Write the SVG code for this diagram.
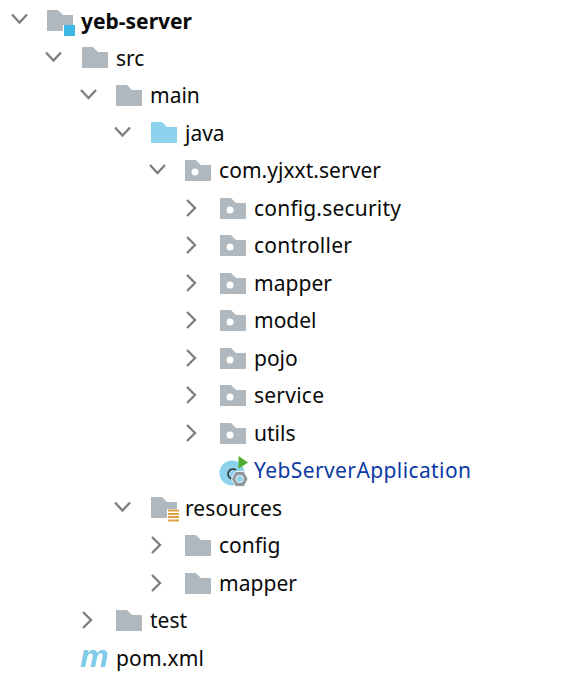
<svg xmlns="http://www.w3.org/2000/svg" width="585" height="673" viewBox="0 0 585 673">
<defs>
<style>
text{font-family:"Noto Sans","Open Sans","Liberation Sans",sans-serif;font-size:21px;fill:#0a0a0a}
.ch{fill:none;stroke:#808080;stroke-width:2.400}
.f{fill:#afb8be}
.j{fill:#8dd3ed}
.h{fill:#fff}
</style>
<path id="folder" d="M0 0H11L16 5H26V21H0Z"/>
<path id="dn" d="M0 0L7.500 8L15 0"/>
<path id="rt" d="M0 0L8 8L0 16"/>
</defs>
<rect width="585" height="673" fill="#fff"/>
<g id="connectors"></g>
<g id="n-root"><use href="#dn" class="ch" x="12" y="14.500"/><path class="f" d="M47 10H58L63 15H73V25H63V31H47Z"/><rect x="64" y="25" width="11" height="11" fill="#3fb7e4"/><text x="81" y="29" textLength="111" style="font-weight:700">yeb-server</text></g>
<g id="n-src"><use href="#dn" class="ch" x="46" y="52.500"/><use href="#folder" class="f" x="82" y="47"/><text x="116" y="66">src</text></g>
<g id="n-main"><use href="#dn" class="ch" x="81" y="90"/><use href="#folder" class="f" x="116" y="85"/><text x="150" y="103">main</text></g>
<g id="n-java"><use href="#dn" class="ch" x="115" y="127.500"/><use href="#folder" class="j" x="151" y="122"/><text x="185" y="141">java</text></g>
<g id="n-pkg"><use href="#dn" class="ch" x="150" y="165"/><use href="#folder" class="f" x="185" y="160"/><circle class="h" cx="195" cy="172" r="3.500"/><text x="219" y="178" textLength="162">com.yjxxt.server</text></g>
<g id="n-config-security"><use href="#rt" class="ch" x="187" y="200"/><use href="#folder" class="f" x="220" y="198"/><circle class="h" cx="230" cy="210" r="3.500"/><text x="254" y="216" textLength="147">config.security</text></g>
<g id="n-controller"><use href="#rt" class="ch" x="187" y="237"/><use href="#folder" class="f" x="220" y="235"/><circle class="h" cx="230" cy="247" r="3.500"/><text x="254" y="253" textLength="98">controller</text></g>
<g id="n-mapper"><use href="#rt" class="ch" x="187" y="275"/><use href="#folder" class="f" x="220" y="273"/><circle class="h" cx="230" cy="285" r="3.500"/><text x="254" y="291" textLength="78">mapper</text></g>
<g id="n-model"><use href="#rt" class="ch" x="187" y="312"/><use href="#folder" class="f" x="220" y="310"/><circle class="h" cx="230" cy="322" r="3.500"/><text x="254" y="328">model</text></g>
<g id="n-pojo"><use href="#rt" class="ch" x="187" y="350"/><use href="#folder" class="f" x="220" y="348"/><circle class="h" cx="230" cy="360" r="3.500"/><text x="254" y="366">pojo</text></g>
<g id="n-service"><use href="#rt" class="ch" x="187" y="387"/><use href="#folder" class="f" x="220" y="385"/><circle class="h" cx="230" cy="397" r="3.500"/><text x="254" y="403" textLength="70">service</text></g>
<g id="n-utils"><use href="#rt" class="ch" x="187" y="425"/><use href="#folder" class="f" x="220" y="423"/><circle class="h" cx="230" cy="435" r="3.500"/><text x="254" y="441">utils</text></g>
<g id="n-app"><circle class="j" cx="232" cy="473" r="12.500"/><path d="M236 470A5 5 0 1 0 233 479" fill="none" stroke="#333" stroke-width="1.600"/><path d="M238.500 456L248 462.500L238.500 469Z" fill="#4fae33"/><path d="M231.500 479L235.500 471.500H244L248 479L244 486.500H235.500Z" fill="#8f979d" stroke="#fff" stroke-width=".8"/><circle cx="239.700" cy="479" r="3.500" fill="#8dd3ed" stroke="#e8ecef" stroke-width="1.200"/><text x="254" y="478" textLength="217" style="fill:#0b3aa5">YebServerApplication</text></g>
<g id="n-resources"><use href="#dn" class="ch" x="115" y="502.500"/><path class="f" d="M151 497H162L167 502H177V509H167V518H151Z"/><path d="M168 510.500H179M168 514H179M168 517H179M168 520.500H179" stroke="#e0a243" stroke-width="1.800"/><text x="185" y="516" textLength="97">resources</text></g>
<g id="n-config"><use href="#rt" class="ch" x="152" y="537"/><use href="#folder" class="f" x="185" y="535"/><text x="219" y="553">config</text></g>
<g id="n-res-mapper"><use href="#rt" class="ch" x="152" y="575"/><use href="#folder" class="f" x="185" y="573"/><text x="219" y="591" textLength="78">mapper</text></g>
<g id="n-test"><use href="#rt" class="ch" x="83" y="612"/><use href="#folder" class="f" x="116" y="610"/><text x="150" y="628">test</text></g>
<g id="n-pom"><text x="80" y="667" style="font-size:32px;font-weight:700;font-style:italic;fill:#7fcbea;font-family:'Liberation Sans',sans-serif">m</text><text x="116" y="666" textLength="88">pom.xml</text></g>
</svg>
